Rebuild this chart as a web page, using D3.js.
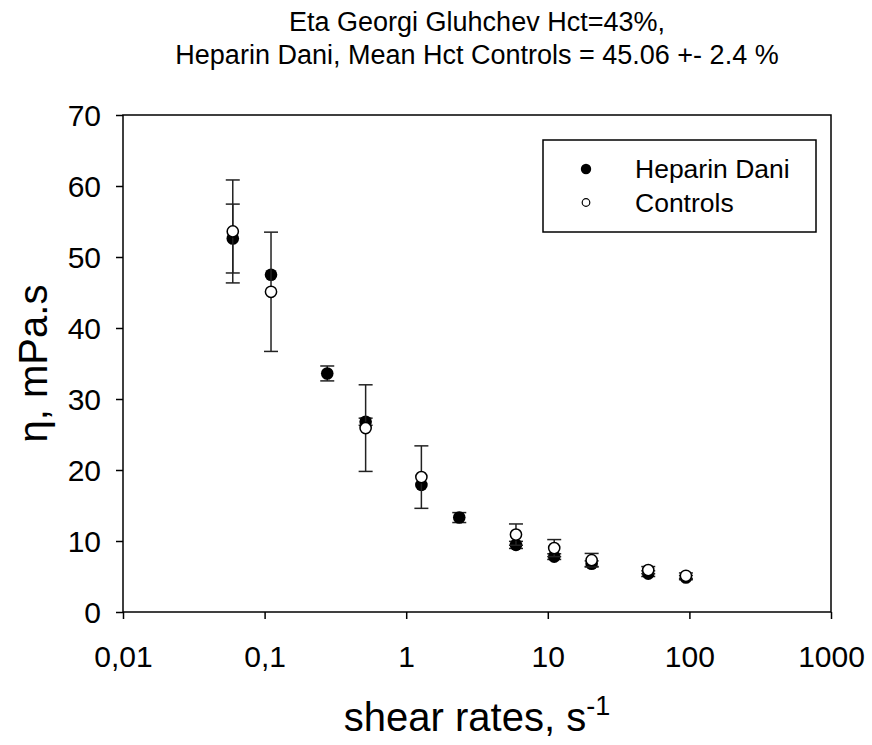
<!DOCTYPE html>
<html>
<head>
<meta charset="utf-8">
<script src="https://cdn.jsdelivr.net/npm/d3@7"></script>
<style>
  body { margin: 0; background: #fff; }
  text { font-family: "Liberation Sans", Arial, sans-serif; fill: #000; }
</style>
</head>
<body>
<div id="chart"></div>
<script>
// shear rates (s^-1) and viscosities
const shearRates = [0.0596, 0.111, 0.277, 0.517, 1.28, 2.37, 5.96, 11.1, 20.4, 51.2, 94.5];
const heparinEta = [52.6, 47.5, 33.6, 26.8, 17.9, 13.3, 9.45, 7.8, 6.8, 5.4, 4.85];
const heparinErr = [4.85, null, 1.05, 0.5, null, 0.7, 0.5, 0.4, 0.4, 0.4, 0.3];
const controlsEta = [53.6, 45.1, null, 25.9, 19.0, null, 10.9, 9.0, 7.3, 5.9, 5.1];
const controlsErr = [7.25, 8.4, null, 6.1, 4.4, null, 1.5, 1.2, 0.95, 0.5, 0.4];
const xTicks = [0.01, 0.1, 1, 10, 100, 1000];
const xTickLabels = ["0,01", "0,1", "1", "10", "100", "1000"];
const yTicks = [0, 10, 20, 30, 40, 50, 60, 70];
const titleLines = ["Eta Georgi Gluhchev Hct=43%,", "Heparin Dani, Mean Hct Controls = 45.06 +- 2.4 %"];
const seriesNames = ["Heparin Dani", "Controls"];

const svg = d3.select("#chart").append("svg")
    .attr("width", 872)
    .attr("height", 745);

const margin = { top: 115, right: 41, bottom: 133, left: 123 };
const width = 872 - margin.left - margin.right;
const height = 745 - margin.top - margin.bottom;

const chart = svg.append("g")
    .attr("transform", `translate(${margin.left},${margin.top})`);

const x = d3.scaleLog().domain([0.01, 1000]).range([0, width]);
const y = d3.scaleLinear().domain([0, 70]).range([height, 0]);

// khung
chart.append("rect")
    .attr("width", width)
    .attr("height", height)
    .attr("fill", "none")
    .attr("stroke", "#000")
    .attr("stroke-width", 1.5);

// trục x
const xAxis = chart.append("g")
    .attr("transform", `translate(0,${height})`)
    .call(d3.axisBottom(x).tickValues(xTicks)
        .tickFormat((d, i) => xTickLabels[i]).tickSize(7).tickPadding(27));
xAxis.select(".domain").remove();
xAxis.selectAll("line").attr("stroke", "#000").attr("stroke-width", 1.5);
xAxis.selectAll("text").style("font-size", "30px").attr("fill", "#000")
    .style("font-family", "'Liberation Sans', Arial, sans-serif");

// trục y
const yAxis = chart.append("g")
    .call(d3.axisLeft(y).tickValues(yTicks).tickSize(7).tickPadding(15));
yAxis.select(".domain").remove();
yAxis.selectAll("line").attr("stroke", "#000").attr("stroke-width", 1.5);
yAxis.selectAll("text").style("font-size", "30px").attr("fill", "#000")
    .attr("dy", "0.36em")
    .style("font-family", "'Liberation Sans', Arial, sans-serif");

const capW = 7;

function drawSeries(vals, errs, filled) {
    const pts = shearRates.map((r, i) => ({ r, v: vals[i], e: errs[i] }))
        .filter(d => d.v !== null);
    const g = chart.append("g");
    // error bars (chỉ khi có sai số)
    const eb = g.selectAll("g.eb").data(pts.filter(d => d.e !== null)).enter().append("g")
        .attr("stroke", "#222").attr("stroke-width", 1.5);
    eb.append("line")
        .attr("x1", d => x(d.r)).attr("x2", d => x(d.r))
        .attr("y1", d => y(d.v - d.e)).attr("y2", d => y(d.v + d.e));
    eb.append("line")
        .attr("x1", d => x(d.r) - capW).attr("x2", d => x(d.r) + capW)
        .attr("y1", d => y(d.v + d.e)).attr("y2", d => y(d.v + d.e));
    eb.append("line")
        .attr("x1", d => x(d.r) - capW).attr("x2", d => x(d.r) + capW)
        .attr("y1", d => y(d.v - d.e)).attr("y2", d => y(d.v - d.e));
    // markers
    g.selectAll("circle").data(pts).enter().append("circle")
        .attr("cx", d => x(d.r))
        .attr("cy", d => y(d.v))
        .attr("r", filled ? 6.3 : 5.6)
        .attr("fill", filled ? "#000" : "#fff")
        .attr("stroke", "#000")
        .attr("stroke-width", filled ? 0 : 1.5);
}

drawSeries(heparinEta, heparinErr, true);
drawSeries(controlsEta, controlsErr, false);

// legend
const legend = svg.append("g");
legend.append("rect")
    .attr("x", 543).attr("y", 140)
    .attr("width", 273).attr("height", 92)
    .attr("fill", "#fff").attr("stroke", "#000").attr("stroke-width", 1.5);
seriesNames.forEach((name, i) => {
    const cy = 169 + i * 33.5;
    legend.append("circle")
        .attr("cx", 586).attr("cy", cy)
        .attr("r", i === 0 ? 5.2 : 3.8)
        .attr("fill", i === 0 ? "#000" : "#fff")
        .attr("stroke", "#000").attr("stroke-width", i === 0 ? 0 : 1.2);
    legend.append("text")
        .attr("x", 635).attr("y", cy + 9)
        .style("font-size", "26.5px")
        .text(name);
});

// title
svg.selectAll("text.title").data(titleLines).enter().append("text")
    .attr("class", "title")
    .attr("x", margin.left + width / 2)
    .attr("y", (d, i) => 31 + i * 33)
    .attr("text-anchor", "middle")
    .style("font-size", "27px")
    .text(d => d);

// x label
const xl = svg.append("text")
    .attr("x", margin.left + width / 2)
    .attr("y", 731)
    .attr("text-anchor", "middle")
    .style("font-size", "40px");
xl.append("tspan").text("shear rates, s");
xl.append("tspan").attr("dy", -16).style("font-size", "27px").text("-1");

// y label
svg.append("text")
    .attr("transform", `translate(47,${margin.top + height / 2}) rotate(-90)`)
    .attr("text-anchor", "middle")
    .style("font-size", "40px")
    .text("η, mPa.s");
</script>
</body>
</html>
